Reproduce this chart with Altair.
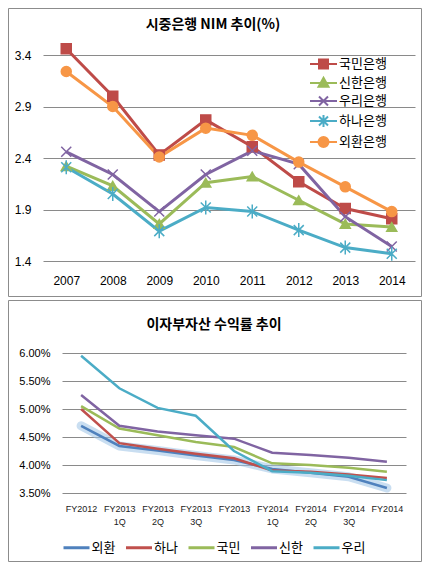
import altair as alt
import pandas as pd

FONT_NUM = "Liberation Sans"
FONT_KR = "Noto Sans CJK KR"

# ---------------- titles ----------------
title_top_text = ["시중은행 NIM 추이(%)"]
title_bot_text = ["이자부자산 수익률 추이"]

# ---------------- top chart: 시중은행 NIM 추이(%) ----------------
years = ["2007", "2008", "2009", "2010", "2011", "2012", "2013", "2014"]
nim_banks = ["국민은행", "신한은행", "우리은행", "하나은행", "외환은행"]
nim_kookmin = [3.46, 3.00, 2.43, 2.77, 2.51, 2.17, 1.91, 1.81]
nim_shinhan = [2.32, 2.13, 1.76, 2.16, 2.22, 1.99, 1.76, 1.73]
nim_woori = [2.46, 2.24, 1.88, 2.24, 2.47, 2.34, 1.83, 1.54]
nim_hana = [2.31, 2.05, 1.69, 1.92, 1.88, 1.70, 1.53, 1.47]
nim_keb = [3.24, 2.90, 2.41, 2.69, 2.62, 2.36, 2.12, 1.88]
nim_colors = ["#BE4B48", "#9BBB59", "#8064A2", "#4BACC6", "#F79646"]
nim_shapes = ["square", "triangle-up", "M-1,-1L1,1M-1,1L1,-1",
              "M-1,-1L1,1M-1,1L1,-1M0,-1.4V1.4", "circle"]
nim_legend_shapes = [
    "M-2.7,0H2.7M-0.9,-0.9H0.9V0.9H-0.9Z",
    "M-2.7,0H2.7M0,-1.05L1,0.75H-1Z",
    "M-2.7,0H2.7M-0.9,-0.9L0.9,0.9M-0.9,0.9L0.9,-0.9",
    "M-2.7,0H2.7M-0.9,-0.9L0.9,0.9M-0.9,0.9L0.9,-0.9M0,-1.2V1.2",
    "M-2.7,0H2.7M-1,0A1,1 0 1,1 1,0A1,1 0 1,1 -1,0Z",
]
nim_ticks = [1.4, 1.9, 2.4, 2.9, 3.4]

# ---------------- bottom chart: 이자부자산 수익률 추이 ----------------
quarters = ["FY2012", "FY2013 1Q", "FY2013 2Q", "FY2013 3Q", "FY2013",
            "FY2014 1Q", "FY2014 2Q", "FY2014 3Q", "FY2014"]
yld_banks = ["외환", "하나", "국민", "신한", "우리"]
yld_keb = [4.70, 4.34, 4.26, 4.17, 4.09, 3.93, 3.86, 3.79, 3.59]
yld_hana = [5.00, 4.39, 4.29, 4.20, 4.12, 3.90, 3.88, 3.83, 3.77]
yld_kb = [5.05, 4.65, 4.53, 4.41, 4.32, 4.03, 4.00, 3.95, 3.88]
yld_shinhan = [5.25, 4.70, 4.60, 4.53, 4.47, 4.22, 4.18, 4.13, 4.06]
yld_woori = [5.95, 5.37, 5.02, 4.88, 4.25, 3.89, 3.86, 3.81, 3.73]
yld_colors = ["#4F81BD", "#C0504D", "#9BBB59", "#8064A2", "#4BACC6"]
yld_ticks = [3.5, 4.0, 4.5, 5.0, 5.5, 6.0]

nim_series = [nim_kookmin, nim_shinhan, nim_woori, nim_hana, nim_keb]
nim_df = pd.DataFrame([
    {"year": y, "bank": b, "nim": v}
    for b, s in zip(nim_banks, nim_series) for y, v in zip(years, s)
])
yld_series = [yld_keb, yld_hana, yld_kb, yld_shinhan, yld_woori]
yld_df = pd.DataFrame([
    {"q": q, "bank": b, "yld": v}
    for b, s in zip(yld_banks, yld_series) for q, v in zip(quarters, s)
])
frame_df = pd.DataFrame({"k": [0]})

GRID = "#8A8A8A"
FRAME = "#8C8C8C"
W, H = 414, 556

# ================= top panel =================
x_top = alt.X("year:O", sort=years, scale=alt.Scale(domain=years, range=[35, 407]),
              axis=alt.Axis(title=None, orient="bottom", offset=-(H - 253), labelAngle=0,
                            ticks=False, domain=False, grid=False, labelPadding=14,
                            labelFontSize=12, labelFont=FONT_NUM, labelColor="#000000"))
y_top = alt.Y("nim:Q", scale=alt.Scale(domain=[1.4, 3.4], range=[253, 47], nice=False, zero=False),
              axis=alt.Axis(title=None, orient="left", offset=-35, values=nim_ticks, format=".1f",
                            ticks=False, domain=False, grid=True, gridColor=GRID,
                            labelPadding=12, labelFontSize=12, labelFont=FONT_NUM,
                            labelColor="#000000"))

frame_top = alt.Chart(frame_df).mark_rect(fill="transparent", stroke=FRAME, strokeWidth=1).encode(
    x=alt.value(0.5), x2=alt.value(413.5), y=alt.value(0.5), y2=alt.value(288.5))

title_top = alt.Chart(pd.DataFrame({"t": title_top_text})).mark_text(
    font=FONT_KR, fontSize=14, fontWeight="bold", color="#000000", align="center", baseline="middle"
).encode(text="t:N", x=alt.value(205), y=alt.value(17))

lines_top = alt.Chart(nim_df).mark_line(strokeWidth=3).encode(
    x=x_top, y=y_top,
    color=alt.Color("bank:N", sort=nim_banks,
                    scale=alt.Scale(domain=nim_banks, range=nim_colors), legend=None))

points_top = alt.Chart(nim_df).mark_point(filled=True, size=100, strokeWidth=1.5, opacity=1).encode(
    x=x_top, y=y_top,
    fill=alt.Fill("bank:N", sort=nim_banks,
                  scale=alt.Scale(domain=nim_banks, range=nim_colors), legend=None),
    stroke=alt.Stroke("bank:N", sort=nim_banks,
                      scale=alt.Scale(domain=nim_banks, range=nim_colors), legend=None),
    shape=alt.Shape("bank:N", sort=nim_banks,
                    scale=alt.Scale(domain=nim_banks, range=nim_shapes), legend=None))

leg_top = alt.Legend(orient="none", direction="vertical", legendX=309, legendY=49.5,
                     title=None, symbolSize=100, symbolStrokeWidth=2, symbolOpacity=1,
                     labelFontSize=13, labelFont=FONT_KR, labelColor="#000000",
                     labelOffset=9, rowPadding=1, padding=0)
legend_layer_top = alt.Chart(nim_df).transform_filter(alt.datum.nim < 0).mark_point(
    filled=True, size=100, opacity=1
).encode(
    x=x_top, y=y_top,
    fill=alt.Fill("bank:N", sort=nim_banks,
                  scale=alt.Scale(domain=nim_banks, range=nim_colors), legend=leg_top),
    stroke=alt.Stroke("bank:N", sort=nim_banks,
                      scale=alt.Scale(domain=nim_banks, range=nim_colors), legend=leg_top),
    shape=alt.Shape("bank:N", sort=nim_banks,
                    scale=alt.Scale(domain=nim_banks, range=nim_legend_shapes), legend=leg_top))

top = alt.layer(frame_top, title_top, lines_top, points_top, legend_layer_top).resolve_scale(
    fill="independent", stroke="independent", shape="independent")

# ================= bottom panel =================
x_bot = alt.X("q:O", sort=quarters, scale=alt.Scale(domain=quarters, range=[54, 398]),
              axis=alt.Axis(title=None, orient="bottom", offset=-(H - 485), labelAngle=0,
                            ticks=False, domain=False, grid=False,
                            labelExpr="split(datum.label, ' ')", labelLineHeight=13,
                            labelFontSize=9, labelPadding=11, labelFont=FONT_NUM,
                            labelColor="#1A1A1A"))
y_bot = alt.Y("yld:Q", scale=alt.Scale(domain=[3.5, 6.0], range=[485, 345], nice=False, zero=False),
              axis=alt.Axis(title=None, orient="left", offset=-54, values=yld_ticks,
                            labelExpr="format(datum.value, '.2f') + '%'", ticks=False,
                            domain=False, grid=True, gridColor=GRID, labelPadding=12,
                            labelFontSize=11, labelFont=FONT_NUM, labelColor="#000000"))

frame_bot = alt.Chart(frame_df).mark_rect(fill="transparent", stroke=FRAME, strokeWidth=1).encode(
    x=alt.value(0.5), x2=alt.value(413.5), y=alt.value(292.5), y2=alt.value(553.5))

title_bot = alt.Chart(pd.DataFrame({"t": title_bot_text})).mark_text(
    font=FONT_KR, fontSize=14, fontWeight="bold", color="#000000", align="center", baseline="middle"
).encode(text="t:N", x=alt.value(206), y=alt.value(317))

glow_bot = alt.Chart(yld_df).transform_filter(alt.datum.bank == "외환").mark_line(
    strokeWidth=9, color="#9DC3E6", opacity=0.55, strokeCap="round", strokeJoin="round"
).encode(x=x_bot, y=y_bot)

leg_bot = alt.Legend(orient="none", direction="horizontal", legendX=62, legendY=533,
                     title=None, symbolType="M-3.25,0H3.25", symbolSize=64,
                     symbolStrokeWidth=3, labelFontSize=13, labelFont=FONT_KR,
                     labelColor="#000000", labelOffset=8.5, columnPadding=3.5, padding=0)
lines_bot = alt.Chart(yld_df).mark_line(strokeWidth=2.5).encode(
    x=x_bot, y=y_bot,
    color=alt.Color("bank:N", sort=yld_banks,
                    scale=alt.Scale(domain=yld_banks, range=yld_colors), legend=leg_bot))

bottom = alt.layer(frame_bot, title_bot, glow_bot, lines_bot)

chart = alt.layer(top, bottom).resolve_scale(
    x="independent", y="independent", color="independent",
    fill="independent", stroke="independent", shape="independent"
).resolve_axis(x="independent", y="independent").resolve_legend(
    color="independent", fill="independent", stroke="independent", shape="independent"
).properties(
    width=W, height=H, padding=0, background="#FFFFFF",
    autosize=alt.AutoSizeParams(type="none")
).configure_view(stroke="transparent", strokeWidth=0)

chart.save("out.html", embed_options={"renderer": "svg", "actions": False})
